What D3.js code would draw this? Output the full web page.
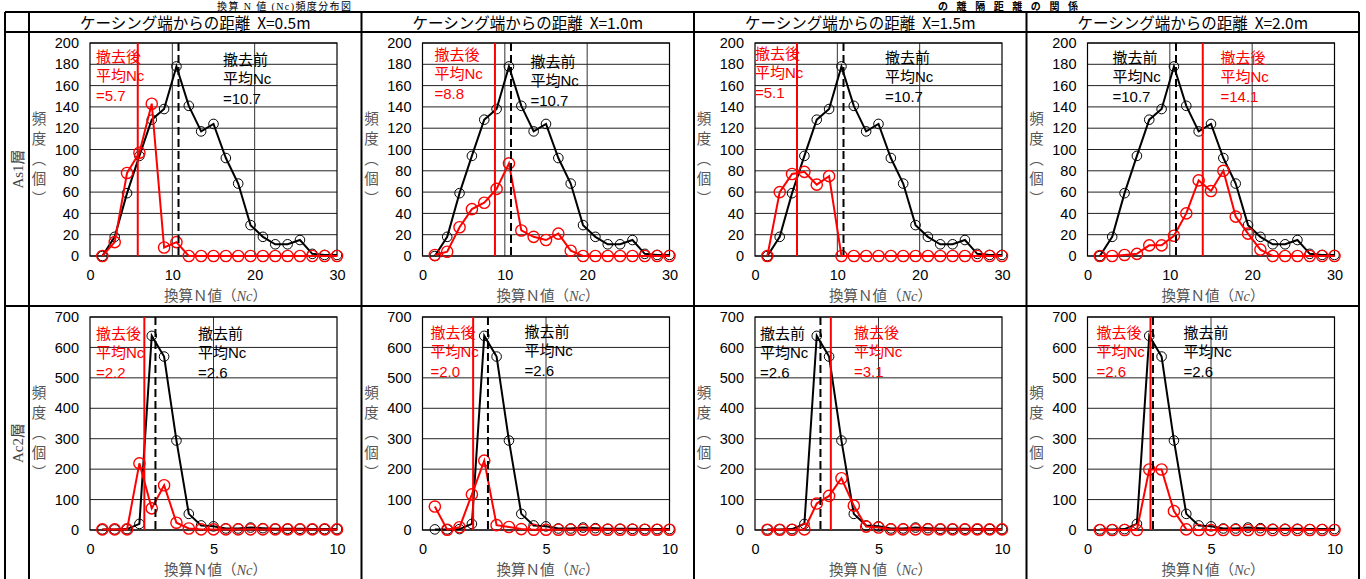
<!DOCTYPE html>
<html><head><meta charset="utf-8">
<script src="https://cdn.jsdelivr.net/npm/d3@7"></script>
<style>
body{margin:0;background:#fff;}
svg{display:block;}
</style></head><body>
<svg id="chart" width="1366" height="579"></svg>
<script>
// ---------------- DATA ----------------
const distances = ["X=0.5m", "X=1.0m", "X=1.5m", "X=2.0m"];
const layers = ["As1層", "Ac2層"];

const xNcAs1 = [1.5,3,4.5,6,7.5,9,10.5,12,13.5,15,16.5,18,19.5,21,22.5,24,25.5,27,28.5,30];
const xNcAc2 = [0.5,1,1.5,2,2.5,3,3.5,4,4.5,5,5.5,6,6.5,7,7.5,8,8.5,9,9.5,10];

const xTicksAs1 = [0, 10, 20, 30];
const yTicksAs1 = [0, 20, 40, 60, 80, 100, 120, 140, 160, 180, 200];
const xTicksAc2 = [0, 5, 10];
const yTicksAc2 = [0, 100, 200, 300, 400, 500, 600, 700];

// 撤去前 (before removal) — same in every distance panel
const beforeAs1 = [0,18,59,94,128,138,178,141,117,124,92,68,29,18,11,11,15,2,1,1];
const beforeAc2 = [2,2,3,20,638,570,294,53,15,12,5,5,8,6,4,4,4,3,3,3];

// 撤去後 (after removal) — per distance
const afterAs1_x05 = [0,13,78,97,143,8,13,0,0,0,0,0,0,0,0,0,0,0,0,0];
const afterAs1_x10 = [1,4,27,44,50,63,87,24,18,15,21,5,0,0,0,0,0,0,0,0];
const afterAs1_x15 = [0,60,77,79,67,75,0,0,0,0,0,0,0,0,0,0,0,0,0,0];
const afterAs1_x20 = [0,0,1,2,10,10,19,40,71,61,80,37,21,6,0,0,0,0,0,0];

const afterAc2_x05 = [2,2,2,219,71,147,24,5,2,2,2,2,2,2,2,2,2,2,2,2];
const afterAc2_x10 = [77,1,9,117,228,16,10,3,1,1,1,1,1,1,1,1,1,1,1,1];
const afterAc2_x15 = [1,1,1,2,87,112,170,80,11,8,2,2,2,2,2,2,2,2,2,2];
const afterAc2_x20 = [0,0,0,0,199,199,62,2,0,0,0,0,0,0,0,0,0,0,0,0];

// mean Nc (line position) and printed label
const meanBeforeAs1 = 10.75, labelBeforeAs1 = "10.7";
const meanAfterAs1 = [5.8, 8.8, 5.1, 14.0];
const labelAfterAs1 = ["5.7", "8.8", "5.1", "14.1"];
const meanBeforeAc2 = 2.65, labelBeforeAc2 = "2.6";
const meanAfterAc2 = [2.2, 2.05, 3.07, 2.55];
const labelAfterAc2 = ["2.2", "2.0", "3.1", "2.6"];

// ---------------- LAYOUT ----------------
const svg = d3.select("#chart");
const colX = [29, 361.5, 694, 1026.5, 1359];
const rowY = [32, 306, 580];
const tableLeft = 5, tableTop = 12;
const plotDX = 61, plotW = 247, plotDY = 11, plotH = 213;
const RED = "#ff0000";
const SANS = "'Liberation Sans','Noto Sans CJK JP',sans-serif";
const JP = "'Noto Sans CJK JP',sans-serif";
const SERIF = "'Liberation Serif','Noto Sans CJK JP',serif";

// annotation positions relative to plot [dx, dy of first line centre]
const annoPos = [
  [{after:[6,13], before:[133,16]}, {after:[12,11], before:[108,18]}, {after:[0,10], before:[130,14]}, {after:[133,14], before:[25,14]}],
  [{after:[6,16], before:[108,16]}, {after:[8,15], before:[102,14]}, {after:[99,15], before:[5,16]}, {after:[9,15], before:[96,15]}]
];

const rows = [
  {layer: layers[0], x: xNcAs1, xMax: 30, yMax: 200, xTicks: xTicksAs1, yTicks: yTicksAs1,
   before: beforeAs1, after: [afterAs1_x05, afterAs1_x10, afterAs1_x15, afterAs1_x20],
   meanB: meanBeforeAs1, labB: labelBeforeAs1, meanA: meanAfterAs1, labA: labelAfterAs1},
  {layer: layers[1], x: xNcAc2, xMax: 10, yMax: 700, xTicks: xTicksAc2, yTicks: yTicksAc2,
   before: beforeAc2, after: [afterAc2_x05, afterAc2_x10, afterAc2_x15, afterAc2_x20],
   meanB: meanBeforeAc2, labB: labelBeforeAc2, meanA: meanAfterAc2, labA: labelAfterAc2}
];

// ---- titles at top (small, kept inside the picture) ----
svg.append("text").attr("x", 284).attr("y", 10).attr("text-anchor", "middle")
  .attr("font-family", SERIF).attr("font-size", 10).attr("fill", "#000")
  .attr("textLength", 134).attr("lengthAdjust", "spacing")
  .text("換算 N 値 (Nc)頻度分布図");
svg.append("text").attr("x", 1008).attr("y", 10).attr("text-anchor", "middle")
  .attr("font-family", SERIF).attr("font-size", 10).attr("font-weight", "bold").attr("fill", "#000")
  .attr("textLength", 140).attr("lengthAdjust", "spacing")
  .text("の離隔距離の関係");

// ---- table lines ----
const table = svg.append("g").attr("stroke", "#000").attr("stroke-width", 2);
[tableTop, rowY[0], rowY[1], rowY[2]].forEach(y =>
  table.append("line").attr("x1", tableLeft).attr("x2", colX[4]).attr("y1", y).attr("y2", y));
[tableLeft].concat(colX).forEach(x =>
  table.append("line").attr("x1", x).attr("x2", x).attr("y1", tableTop).attr("y2", rowY[2]));

// ---- header texts ----
distances.forEach((d, c) => {
  svg.append("text").attr("x", (colX[c] + colX[c+1]) / 2).attr("y", 22)
    .attr("text-anchor", "middle").attr("dominant-baseline", "central")
    .attr("font-family", JP).attr("font-size", 15.5).attr("fill", "#000")
    .style("white-space", "pre")
    .text("ケーシング端からの距離  " + d);
});

// ---- panels ----
rows.forEach((R, r) => {
  // row label
  const cy = (rowY[r] + rowY[r+1]) / 2;
  svg.append("text").attr("transform", `translate(18,${cy}) rotate(-90)`)
    .attr("text-anchor", "middle").attr("dominant-baseline", "central")
    .attr("font-family", SERIF).attr("font-size", 15).attr("fill", "#444")
    .text(R.layer);

  for (let c = 0; c < 4; c++) {
    const pl = colX[c] + plotDX, pt = rowY[r] + plotDY;
    const x = d3.scaleLinear().domain([0, R.xMax]).range([pl, pl + plotW]);
    const y = d3.scaleLinear().domain([0, R.yMax]).range([pt + plotH, pt]);
    const g = svg.append("g");

    // gridlines
    g.append("g").selectAll("line").data(R.yTicks).join("line")
      .attr("x1", pl).attr("x2", pl + plotW).attr("y1", d => y(d)).attr("y2", d => y(d))
      .attr("stroke", "#222").attr("stroke-width", 1);
    g.append("g").selectAll("line").data(R.xTicks.slice(1, -1)).join("line")
      .attr("x1", d => x(d)).attr("x2", d => x(d)).attr("y1", pt).attr("y2", pt + plotH)
      .attr("stroke", "#333").attr("stroke-width", 1);
    g.append("rect").attr("x", pl).attr("y", pt).attr("width", plotW).attr("height", plotH)
      .attr("fill", "none").attr("stroke", "#000").attr("stroke-width", 1.2);

    // axes
    const ay = g.append("g").attr("transform", `translate(${pl},0)`)
      .call(d3.axisLeft(y).tickValues(R.yTicks).tickSize(0).tickPadding(11));
    const ax = g.append("g").attr("transform", `translate(0,${pt + plotH})`)
      .call(d3.axisBottom(x).tickValues(R.xTicks).tickSize(0).tickPadding(14));
    [ay, ax].forEach(a => {
      a.select(".domain").remove();
      a.selectAll("text").attr("font-family", SANS).attr("font-size", 14.5).attr("fill", "#000");
    });

    // axis titles
    const xt = g.append("text").attr("x", pl + plotW / 2 + 2).attr("y", pt + plotH + 40)
      .attr("text-anchor", "middle").attr("dominant-baseline", "central")
      .attr("font-family", SERIF).attr("font-size", 14.5).attr("fill", "#555");
    xt.append("tspan").text("換算Ｎ値（");
    xt.append("tspan").attr("font-style", "italic").text("Nc");
    xt.append("tspan").text("）");

    g.append("text").attr("x", pl - 51).attr("y", pt + plotH / 2 + 12)
      .attr("text-anchor", "middle")
      .style("writing-mode", "vertical-rl")
      .attr("font-family", JP).attr("font-size", 14.5).attr("letter-spacing", 5.5)
      .attr("fill", "#555")
      .text("頻度（個）");

    // series
    const line = d3.line().x((d, i) => x(R.x[i])).y(d => y(d));
    g.append("path").datum(R.before).attr("d", line)
      .attr("fill", "none").attr("stroke", "#000").attr("stroke-width", 2);
    g.append("g").selectAll("circle").data(R.before).join("circle")
      .attr("cx", (d, i) => x(R.x[i])).attr("cy", d => y(d)).attr("r", 4.8)
      .attr("fill", "none").attr("stroke", "#000").attr("stroke-width", 1);

    const aft = R.after[c];
    g.append("path").datum(aft).attr("d", line)
      .attr("fill", "none").attr("stroke", RED).attr("stroke-width", 2);
    g.append("g").selectAll("circle").data(aft).join("circle")
      .attr("cx", (d, i) => x(R.x[i])).attr("cy", d => y(d)).attr("r", 5.6)
      .attr("fill", "none").attr("stroke", RED).attr("stroke-width", 1.4);

    // mean lines
    g.append("line").attr("x1", x(R.meanA[c])).attr("x2", x(R.meanA[c]))
      .attr("y1", pt).attr("y2", pt + plotH)
      .attr("stroke", RED).attr("stroke-width", 2);
    g.append("line").attr("x1", x(R.meanB)).attr("x2", x(R.meanB))
      .attr("y1", pt).attr("y2", pt + plotH)
      .attr("stroke", "#000").attr("stroke-width", 2).attr("stroke-dasharray", "8,4");

    // annotations
    const pos = annoPos[r][c];
    const blocks = [
      {p: pos.after, col: RED, lines: ["撤去後", "平均Nc", "=" + R.labA[c]]},
      {p: pos.before, col: "#000", lines: ["撤去前", "平均Nc", "=" + R.labB]}
    ];
    blocks.forEach(b => {
      b.lines.forEach((t, k) => {
        g.append("text").attr("x", pl + b.p[0]).attr("y", pt + b.p[1] + k * 19.5)
          .attr("dominant-baseline", "central")
          .attr("font-family", SANS).attr("font-size", 15).attr("fill", b.col)
          .text(t);
      });
    });
  }
});
</script>
</body></html>
